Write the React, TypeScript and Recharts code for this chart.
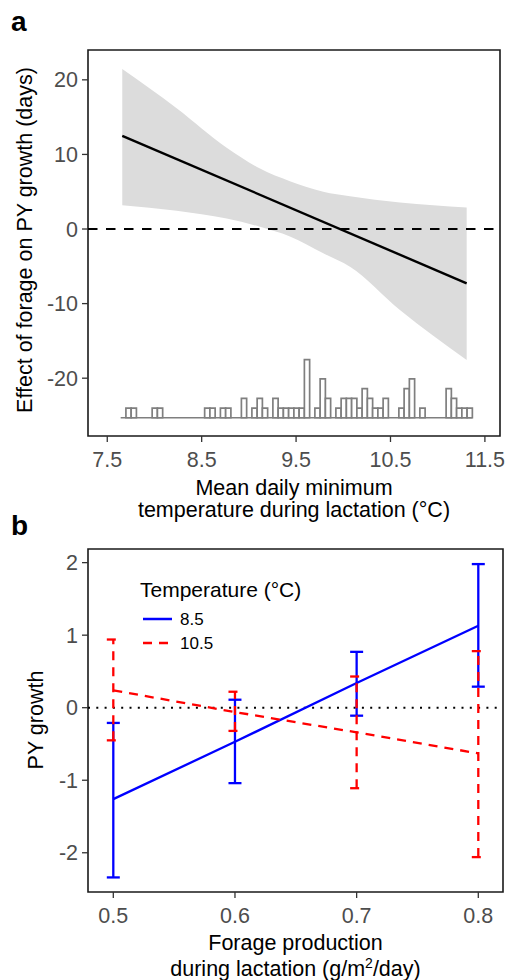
import React from 'react';
import {
  ComposedChart,
  Line,
  Area,
  XAxis,
  YAxis,
  ReferenceLine,
  ReferenceArea,
  ErrorBar,
} from 'recharts';

const FONT = '"Liberation Sans", Arial, Helvetica, sans-serif';

// ---- panel a: effect of forage on PY growth vs temperature ----
const FIT_X = [7.659, 11.307];
const FIT_Y = [12.5, -7.28];

const BAND_X = [7.659, 8.235, 8.765, 9.118, 9.435, 9.788, 10.071, 10.6, 11.307];
const BAND_LO = [3.2, 2.45, 1.4, 0.3, -1.0, -3.25, -5.05, -10.86, -17.56];
const BAND_HI = [21.45, 16.2, 10.9, 8.1, 6.4, 5.0, 4.4, 3.55, 2.9];

// histogram of observed temperatures (counts per bin)
const HIST_START = 7.642;
const HIST_W = 0.0556;
const HIST_COUNTS = [
  0, 1, 1, 0, 0, 0, 1, 1, 0, 0,
  0, 0, 0, 0, 0, 0, 1, 1, 0, 1,
  1, 0, 0, 2, 0, 1, 2, 1, 0, 2,
  1, 1, 1, 1, 1, 6, 0, 1, 4, 2,
  0, 1, 2, 2, 2, 1, 3, 2, 1, 1,
  2, 0, 0, 1, 3, 4, 0, 1, 0, 0,
  0, 0, 3, 2, 1, 1, 1,
];
const HIST_BASE = -25.3; // y value of histogram baseline
const HIST_UNIT = 1.3; // y units per count

const A_X_TICKS = [7.5, 8.5, 9.5, 10.5, 11.5];
const A_Y_TICKS = [-20, -10, 0, 10, 20];
const A_X_DOMAIN = [7.296, 11.66];
const A_Y_DOMAIN = [-27.75, 24.0];

// ---- panel b: PY growth vs forage production ----
const FORAGE = [0.5, 0.6, 0.7, 0.8];
const T85_MEAN = [-1.26, -0.47, 0.34, 1.13];
const T85_LO = [-2.34, -1.04, -0.11, 0.29];
const T85_HI = [-0.21, 0.11, 0.77, 1.98];
const T105_MEAN = [0.24, -0.06, -0.34, -0.63];
const T105_LO = [-0.45, -0.32, -1.11, -2.06];
const T105_HI = [0.94, 0.22, 0.43, 0.78];

const B_X_TICKS = [0.5, 0.6, 0.7, 0.8];
const B_Y_TICKS = [-2, -1, 0, 1, 2];
const B_X_DOMAIN = [0.4792, 0.8203];
const B_Y_DOMAIN = [-2.541, 2.188];

const fitData = FIT_X.map((x, i) => ({ x, y: FIT_Y[i] }));
const bandData = BAND_X.map((x, i) => ({ x, band: [BAND_LO[i], BAND_HI[i]] }));
const histBins = HIST_COUNTS.map((count, i) => ({
  x0: HIST_START + i * HIST_W,
  x1: HIST_START + (i + 1) * HIST_W,
  count,
}));
const HIST_END = HIST_START + HIST_COUNTS.length * HIST_W;
const HIST_DOMAIN = [
  (A_Y_DOMAIN[0] - HIST_BASE) / HIST_UNIT,
  (A_Y_DOMAIN[1] - HIST_BASE) / HIST_UNIT,
];

const makeSeries = (mean: number[], lo: number[], hi: number[]) =>
  FORAGE.map((x, i) => ({ x, mean: mean[i], err: [mean[i] - lo[i], hi[i] - mean[i]] }));
const t85Data = makeSeries(T85_MEAN, T85_LO, T85_HI);
const t105Data = makeSeries(T105_MEAN, T105_LO, T105_HI);

const tickStyle = { fill: '#4d4d4d', fontSize: 21.5, fontFamily: FONT };
const tickLine = { stroke: '#333', strokeWidth: 1.3 };
const fmt = (v: number) => String(v);

export default function App() {
  return (
    <div style={{ position: 'absolute', left: 0, top: 0, width: 507, height: 980, background: '#fff' }}>
      <div style={{ position: 'absolute', left: 0, top: 0 }}>
        <ComposedChart width={507} height={530} margin={{ top: 50, right: 7, bottom: 54, left: 0 }}>
          <XAxis
            dataKey="x"
            type="number"
            domain={A_X_DOMAIN}
            ticks={A_X_TICKS}
            tickFormatter={fmt}
            allowDataOverflow
            axisLine={false}
            tickLine={tickLine}
            tickSize={6}
            tickMargin={10}
            tick={tickStyle}
            height={40}
            interval={0}
          />
          <YAxis
            type="number"
            domain={A_Y_DOMAIN}
            ticks={A_Y_TICKS}
            allowDataOverflow
            axisLine={false}
            tickLine={tickLine}
            tickSize={6}
            tickMargin={4}
            tick={tickStyle}
            width={88}
            interval={0}
          />
          <YAxis yAxisId="h" type="number" domain={HIST_DOMAIN} allowDataOverflow hide />
          <Area
            data={bandData}
            dataKey="band"
            type="monotone"
            stroke="none"
            fill="#dcdcdc"
            fillOpacity={1}
            isAnimationActive={false}
            activeDot={false}
          />
          <ReferenceLine y={0} stroke="#000" strokeWidth={1.8} strokeDasharray="9.5 8.5" />
          <Line
            data={fitData}
            dataKey="y"
            type="linear"
            stroke="#000"
            strokeWidth={2.4}
            dot={false}
            activeDot={false}
            isAnimationActive={false}
          />
          <ReferenceLine
            yAxisId="h"
            segment={[{ x: HIST_START, y: 0 }, { x: HIST_END, y: 0 }]}
            stroke="#7f7f7f"
            strokeWidth={1.7}
          />
          {histBins
            .filter((b) => b.count > 0)
            .map((b) => (
              <ReferenceArea
                key={b.x0}
                yAxisId="h"
                x1={b.x0}
                x2={b.x1}
                y1={0}
                y2={b.count}
                fill="#fff"
                fillOpacity={1}
                stroke="#7f7f7f"
                strokeWidth={1.7}
                ifOverflow="visible"
              />
            ))}
          <ReferenceArea
            x1={A_X_DOMAIN[0]}
            x2={A_X_DOMAIN[1]}
            y1={A_Y_DOMAIN[0]}
            y2={A_Y_DOMAIN[1]}
            fill="none"
            stroke="#1a1a1a"
            strokeWidth={1.6}
          />
        </ComposedChart>
      </div>

      <div style={{ position: 'absolute', left: 0, top: 530 }}>
        <ComposedChart width={507} height={450} margin={{ top: 19, right: 4, bottom: 48, left: 0 }}>
          <XAxis
            dataKey="x"
            type="number"
            domain={B_X_DOMAIN}
            ticks={B_X_TICKS}
            tickFormatter={fmt}
            allowDataOverflow
            axisLine={false}
            tickLine={tickLine}
            tickSize={6}
            tickMargin={10}
            tick={tickStyle}
            height={40}
            interval={0}
          />
          <YAxis
            type="number"
            domain={B_Y_DOMAIN}
            ticks={B_Y_TICKS}
            allowDataOverflow
            axisLine={false}
            tickLine={tickLine}
            tickSize={6}
            tickMargin={4}
            tick={tickStyle}
            width={88}
            interval={0}
          />
          <ReferenceLine y={0} stroke="#000" strokeWidth={2} strokeDasharray="2 6.3" />
          <Line
            data={t85Data}
            dataKey="mean"
            type="linear"
            stroke="#0000ff"
            strokeWidth={2.3}
            dot={false}
            activeDot={false}
            isAnimationActive={false}
          >
            <ErrorBar dataKey="err" direction="y" width={6.5} stroke="#0000ff" strokeWidth={2.3} isAnimationActive={false} />
          </Line>
          <Line
            data={t105Data}
            dataKey="mean"
            type="linear"
            stroke="#ff0000"
            strokeWidth={2.3}
            strokeDasharray="9 7"
            dot={false}
            activeDot={false}
            isAnimationActive={false}
          >
            <ErrorBar
              dataKey="err"
              direction="y"
              width={6.5}
              stroke="#ff0000"
              strokeWidth={2.3}
              strokeDasharray="9 7"
              isAnimationActive={false}
            />
          </Line>
          <ReferenceArea
            x1={B_X_DOMAIN[0]}
            x2={B_X_DOMAIN[1]}
            y1={B_Y_DOMAIN[0]}
            y2={B_Y_DOMAIN[1]}
            fill="none"
            stroke="#1a1a1a"
            strokeWidth={1.6}
          />
        </ComposedChart>
      </div>

      <svg
        width={507}
        height={980}
        style={{ position: 'absolute', left: 0, top: 0, pointerEvents: 'none' }}
        fontFamily={FONT}
      >
        <text x={11} y={31} fontSize={28} fontWeight="bold" fill="#000">a</text>
        <text x={11} y={535} fontSize={28} fontWeight="bold" fill="#000">b</text>

        <text transform="translate(31.5,240) rotate(-90)" textAnchor="middle" fontSize={21.5} fill="#000">
          Effect of forage on PY growth (days)
        </text>
        <text x={294} y={495} textAnchor="middle" fontSize={21.5} fill="#000">Mean daily minimum</text>
        <text x={294} y={517} textAnchor="middle" fontSize={21.5} fill="#000">temperature during lactation (°C)</text>

        <text transform="translate(43,720) rotate(-90)" textAnchor="middle" fontSize={21.5} fill="#000">
          PY growth
        </text>
        <text x={295.5} y={950} textAnchor="middle" fontSize={21.5} fill="#000">Forage production</text>
        <text x={295.5} y={976} textAnchor="middle" fontSize={21.5} fill="#000">
          during lactation (g/m<tspan dy={-8} fontSize={14}>2</tspan><tspan dy={8}>/day)</tspan>
        </text>

        <text x={140} y={597} fontSize={21} fill="#000">Temperature (°C)</text>
        <line x1={143} x2={172} y1={619} y2={619} stroke="#0000ff" strokeWidth={2.5} />
        <text x={180} y={625} fontSize={17} fill="#000">8.5</text>
        <line x1={143} x2={172} y1={643} y2={643} stroke="#ff0000" strokeWidth={2.5} strokeDasharray="9 7" />
        <text x={180} y={649} fontSize={17} fill="#000">10.5</text>
      </svg>
    </div>
  );
}
